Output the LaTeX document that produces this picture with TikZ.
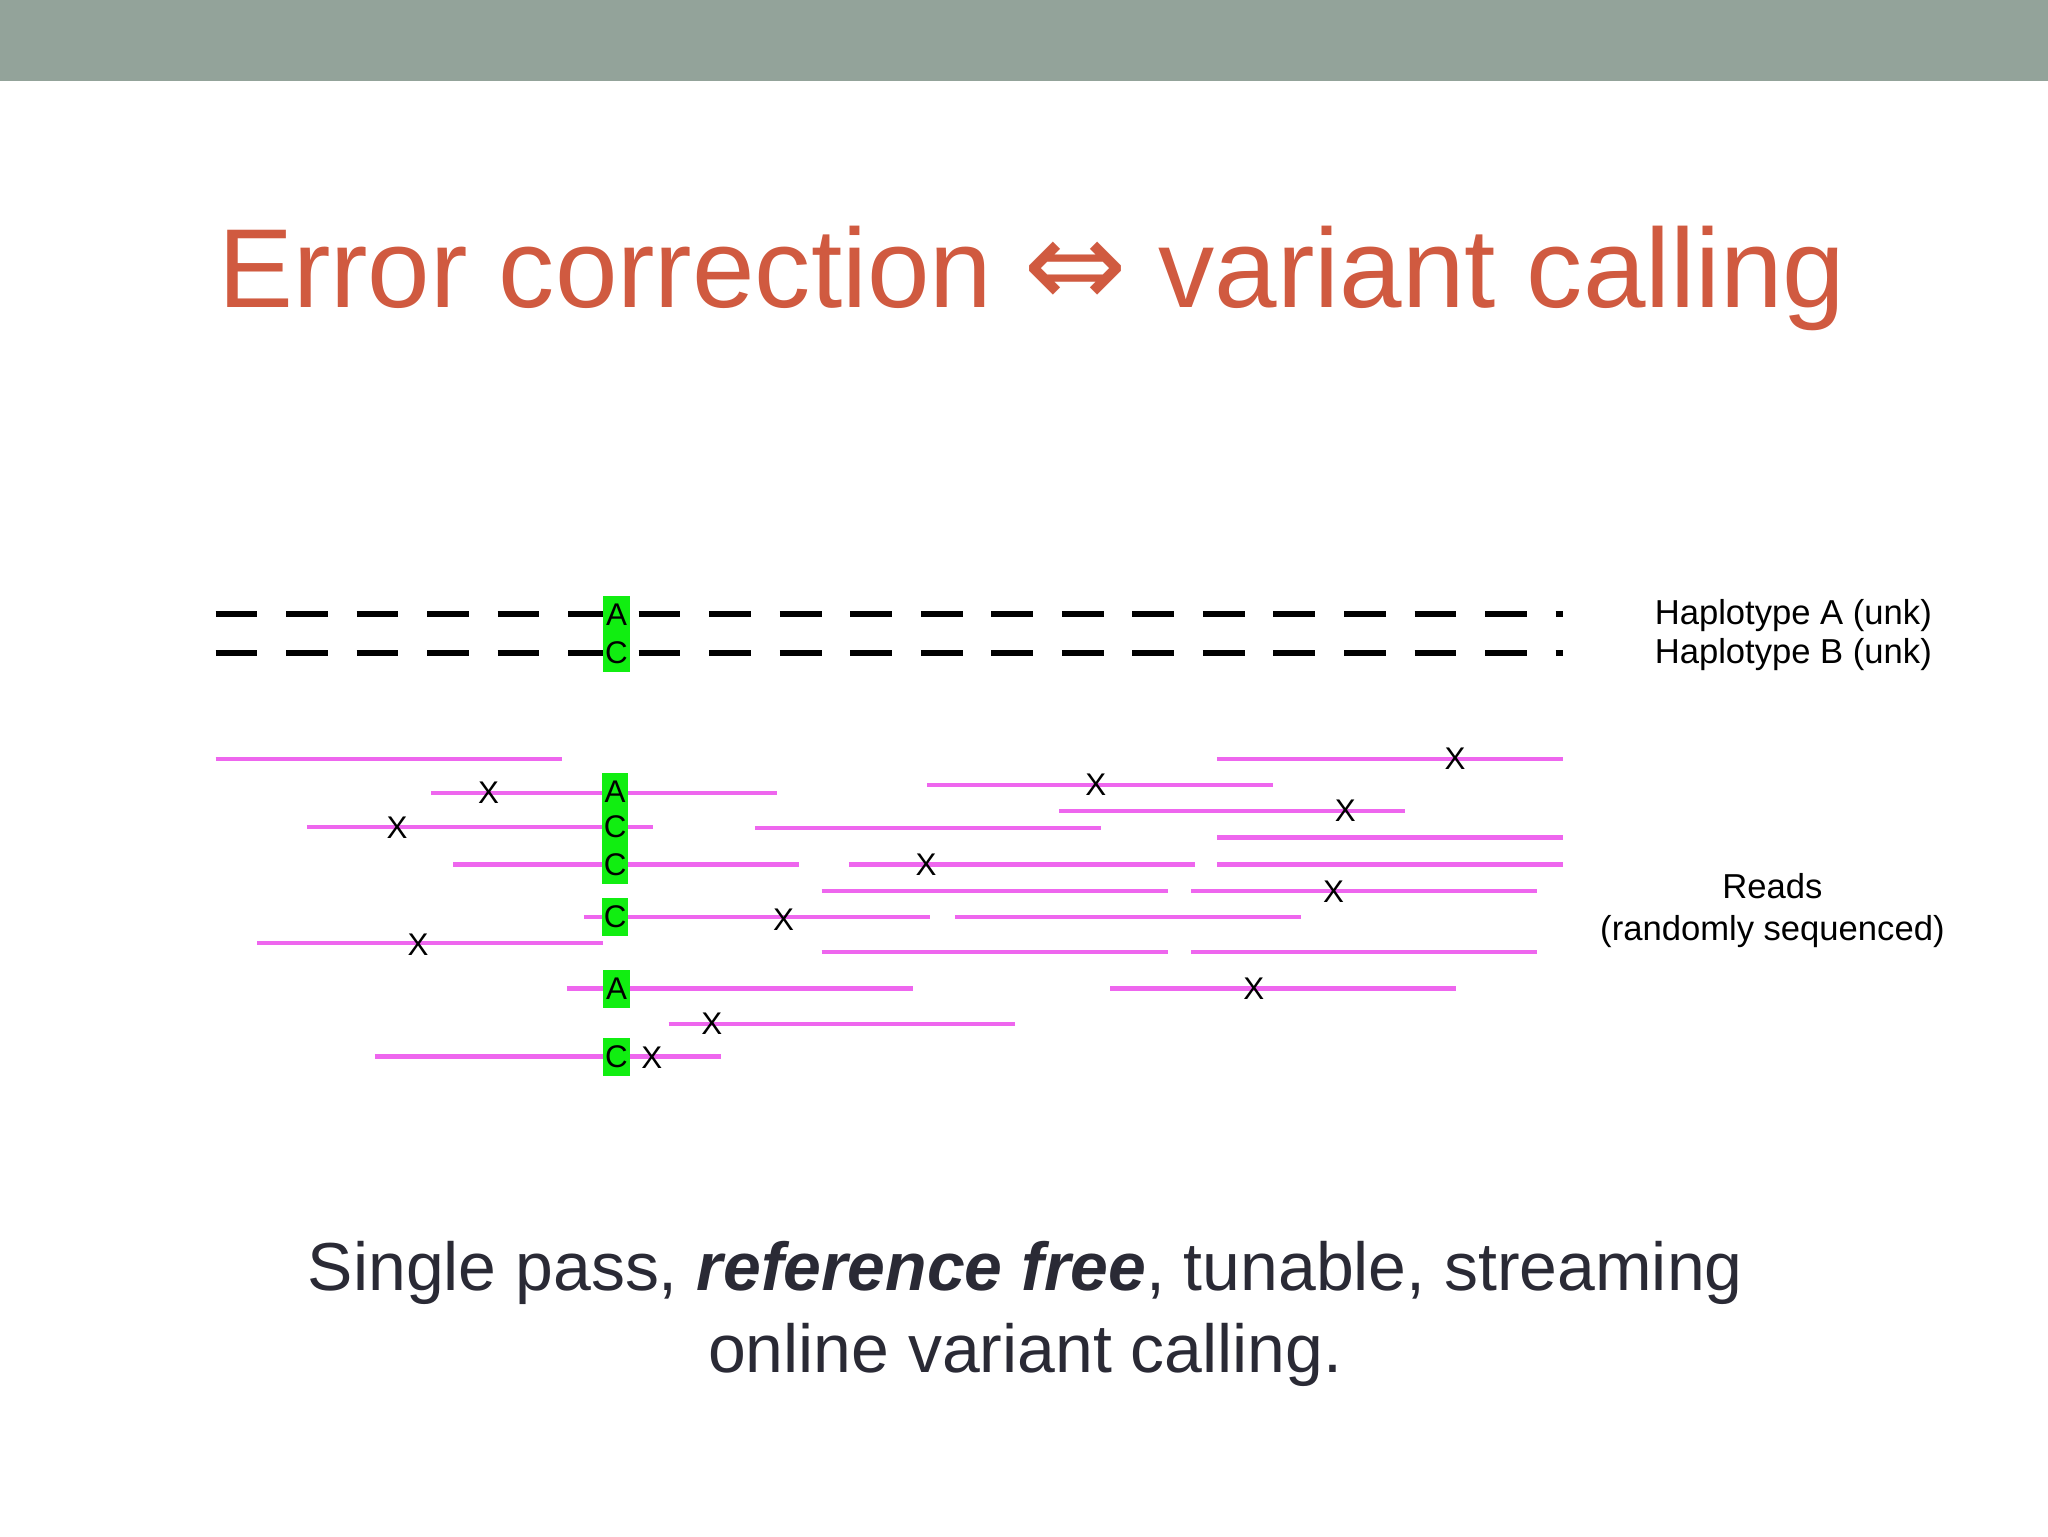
\documentclass[tikz,border=0pt]{standalone}
\usepackage{fontspec}
\setmainfont{Liberation Sans}
\newfontfamily\dejavu{DejaVu Sans}
\definecolor{barc}{HTML}{93A39A}
\definecolor{titc}{HTML}{D05A40}
\definecolor{readc}{HTML}{EE66EE}
\definecolor{grn}{HTML}{11EE11}
\definecolor{bodyc}{HTML}{2A2A35}
\begin{document}
\begin{tikzpicture}[x=1pt,y=-1pt,
  read/.style={readc,line width=3.5pt},
  hap/.style={black,line width=5pt,dash pattern=on 32pt off 22pt},
  base/.style={fill=grn,inner sep=0pt,minimum width=20pt,minimum height=29pt,font=\fontsize{24}{24}\selectfont},
  xm/.style={inner sep=0pt,font=\fontsize{24}{24}\selectfont},
  lab/.style={inner sep=0pt,font=\fontsize{26.5}{32}\selectfont,align=center}]
\useasboundingbox (0,0) rectangle (1568,1176);
\fill[barc] (0,0) rectangle (1568,62);
\node[titc,font=\fontsize{86}{86}\selectfont] (title) at (790,213) {Error correction {\dejavu\fontsize{95}{95}\selectfont ⇔} variant calling};
% haplotypes
\draw[hap] (165,470) -- (1197,470);
\draw[hap] (165,500) -- (1197,500);
\node[base] (ha) at (472,471) {A};
\node[base] (hb) at (472,500) {C};
\node[lab] (la) at (1373,471) {Haplotype A (unk)};
\node[lab] (lb) at (1373,501) {Haplotype B (unk)};
% reads
\foreach \a/\b/\y in {165/430/581,330/595/607,235/500/633,347/612/662,447/712/702,197/462/722,434/699/757,512/777/784,287/552/809,710/975/601,578/843/634,650/915/662,629/894/682,731/996/702,629/894/729,811/1076/621,932/1197/581,932/1197/641,932/1197/662,912/1177/682,912/1177/729,850/1115/757}
  \draw[read] (\a,\y) -- (\b,\y);
\node[base] (r2) at (471,606) {A};
\node[base] (r3) at (471,633) {C};
\node[base] (r4) at (471,662) {C};
\node[base] (r5) at (471,702) {C};
\node[base] (r7) at (472,757) {A};
\node[base] (r9) at (472,809) {C};
\foreach \x/\y [count=\i] in {374/607,304/634,600/704,320/723,545/784,499/810,839/601,709/662,1030/621,1114/581,1021/683,960/757}
  \node[xm] (x\i) at (\x,\y) {X};
\node[lab] (reads) at (1357,697) {Reads\\(randomly sequenced)};
\node[bodyc,align=center,font=\fontsize{52}{63}\selectfont] (bottom) at (785,1006) {Single pass, \textbf{\textit{reference free}}, tunable, streaming\\online variant calling.};
\end{tikzpicture}
\end{document}
